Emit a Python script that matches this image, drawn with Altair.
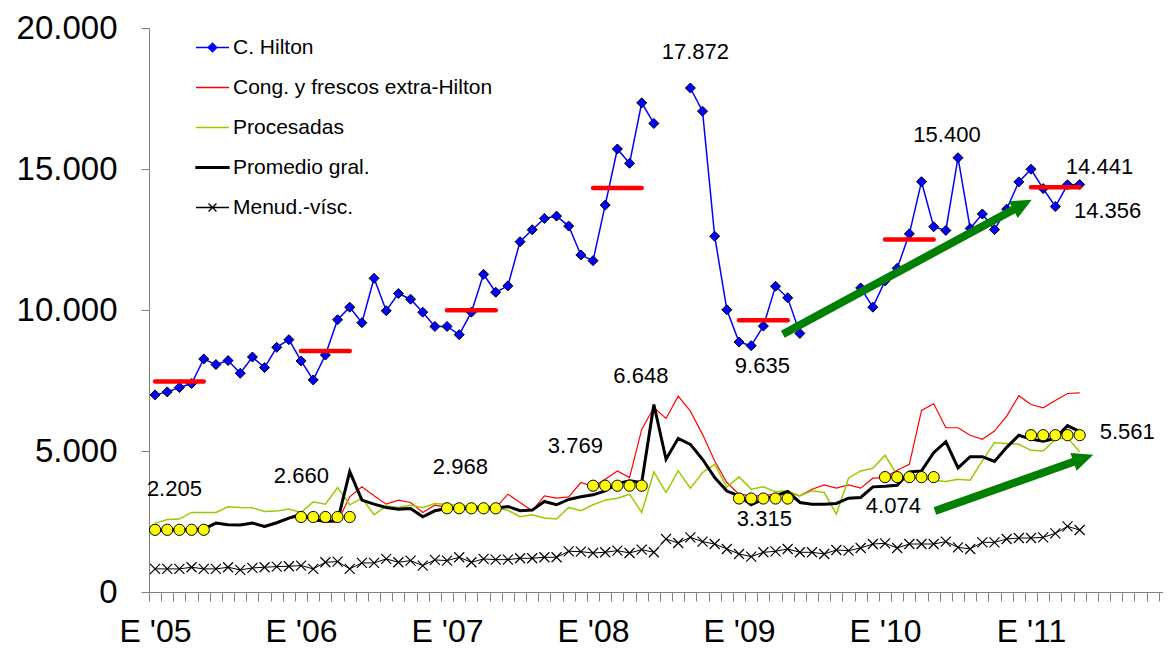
import math
import json
import altair as alt
import pandas as pd

# ---------------- data ----------------
months = list(range(77))  # 0 = Jan 2005 ... 76 = May 2011

hilton = [6990, 7096, 7252, 7393, 8263, 8065, 8206, 7757, 8333, 7958, 8676, 8948,
          8192, 7520, 8404, 9655, 10100, 9549, 11125, 9973, 10584, 10383, 9923, 9418,
          9418, 9125, 9924, 11266, 10630, 10856, 12422, 12846, 13246, 13329, 12976, 11951,
          11750, 13719, 15709, 15203, 17345, 16616, None, None, 17872, 17051, 12616, 10008,
          8863, 8736, 9429, 10842, 10432, 9171, None, None, None, None, 10784, 10100,
          11033, 11479, 12700, 14550, 12952, 12821, 15400, 12890, 13405, 12850, 13577, 14543,
          14991, 14306, 13670, 14441, 14447]

cong = [2190, 2200, 2210, 2220, 2240, 2420, 2370, 2360, 2430, 2291, 2430, 2600,
        2680, 2550, 2468, 2491, 3375, 3728, 3410, 3116, 3257, 3175, 2821, 3080,
        3010, 2990, 3000, 3030, 2980, 3469, 3175, 2880, 3410, 3328, 3375, 3882,
        3740, 3999, 4294, 4058, 5766, 6532, 6155, 6945, 6415, 5590, 4647, 3882,
        3469, 3410, 3420, 3469, 3528, 3410, 3646, 3799, 3681, 3799, 3681, 4035,
        4058, 4317, 4529, 6437, 6673, 5825, 5825, 5560, 5413, 5708, 6237, 6960,
        6650, 6532, 6791, 7039, 7062]

procesadas = [2433, 2574, 2586, 2821, 2821, 2821, 3022, 2998, 2986, 2857, 2868, 2939,
              2821, 3198, 3116, 3705, 3092, 3328, 2739, 3045, 2998, 3080, 2986, 3139,
              3100, 3080, 3060, 3050, 3000, 2900, 2668, 2739, 2621, 2586, 2998, 2880,
              3092, 3257, 3328, 3469, 2821, 4258, 3528, 4294, 3681, 4235, 4529, 3720,
              4082, 3646, 3728, 3552, 3587, 3410, 3587, 3528, 2762, 4035, 4294, 4388,
              4847, 4150, 4058, 4035, 3964, 3917, 3999, 3964, 4647, 5300, 5270, 5236,
              5024, 5000, 5413, 5472, 4977]

promedio = [2180, 2200, 2210, 2220, 2230, 2444, 2385, 2374, 2444, 2327, 2456, 2621,
            2762, 2550, 2515, 2515, 4270, 3257, 3116, 2998, 2939, 2963, 2668, 2880,
            2960, 2970, 2960, 2980, 2970, 3033, 2880, 2904, 3210, 3093, 3281, 3375,
            3446, 3587, 3846, 3940, 3881, 6648, 4706, 5448, 5236, 4706, 4058, 3580,
            3410, 3092, 3293, 3410, 3563, 3175, 3116, 3116, 3139, 3328, 3351, 3728,
            3752, 3787, 4258, 4294, 4940, 5330, 4400, 4800, 4800, 4630, 5130, 5560,
            5420, 5350, 5450, 5900, 5690]

menudencias = [819, 819, 819, 878, 819, 819, 878, 783, 854, 878, 901, 913,
               937, 819, 1054, 1078, 819, 1031, 1031, 1172, 1054, 1113, 937, 1137,
               1113, 1231, 1054, 1172, 1148, 1148, 1196, 1196, 1231, 1231, 1443, 1431,
               1384, 1408, 1467, 1384, 1502, 1408, 1879, 1738, 1938, 1785, 1702, 1526,
               1349, 1255, 1408, 1443, 1526, 1408, 1408, 1349, 1490, 1467, 1561, 1702,
               1726, 1561, 1702, 1702, 1702, 1785, 1584, 1526, 1761, 1761, 1879, 1914,
               1914, 1938, 2079, 2327, 2197]

series_names = ["C. Hilton", "Cong. y frescos extra-Hilton", "Procesadas",
                "Promedio gral.", "Menud.-vísc."]

year_labels = ["E '05", "E '06", "E '07", "E '08", "E '09", "E '10", "E '11"]
year_start = [0, 12, 24, 36, 48, 60, 72]
hilton_avg = [7464, 8545, 9994, 14330, 9635, 12503, 14356]     # red bars (Jan-May)
promedio_avg = [2205, 2660, 2968, 3769, 3315, 4074, 5561]      # yellow dots (Jan-May)

# annotation labels: anchor month and value (text = value)
ann_month = [2, 14, 26, 38, 50, 62, 76, 41, 44, 50, 66, 75, 76]
ann_value = [2205, 2660, 2968, 3769, 3315, 4074, 5561, 6648, 17872, 9635, 15400, 14441, 14356]

# trend arrows (month, value)
arrow_tail_m = [51.6, 64.1]
arrow_tail_v = [9142, 2873]
arrow_tip_m = [72.06, 77.12]
arrow_tip_v = [13912, 4866]

# ---------------- styling / layout ----------------
FONT = "Liberation Sans"
W, H = 1014, 564
X_MIN, X_MAX = -0.5, 82.85
Y_MIN, Y_MAX = 0, 20000
GRAY = "#808080"

ann_style = [  # dx, dy, align
    (-5, -41, "center"), (-24, -41, "center"), (-11, -41, "center"), (-42, -40, "center"),
    (1, 20, "center"), (-16, 29, "center"), (20, -3, "left"), (-13, -29, "center"),
    (5, -36, "center"), (-1, 46, "center"), (-11, -23, "center"), (32, -18, "center"),
    (28, 24, "center"),
]

xs = alt.Scale(domain=[X_MIN, X_MAX], nice=False, zero=False)
ys = alt.Scale(domain=[Y_MIN, Y_MAX], nice=False, zero=False)

tick_vals = [k - 0.5 for k in range(84)]
label_expr = ("(datum.value + 0.5) % 12 === 0 ? " + json.dumps(year_labels) +
              "[(datum.value + 0.5) / 12] : ''")

x_axis = alt.Axis(values=tick_vals, labelExpr=label_expr, labelOffset=W / (X_MAX - X_MIN) / 2,
                  tickSize=9, tickColor=GRAY, domainColor=GRAY, tickWidth=1, domainWidth=1,
                  labelFontSize=32, labelFont=FONT, labelColor="#000000", labelPadding=15,
                  labelOverlap=False, labelFlush=False, grid=False, title=None)
y_axis = alt.Axis(values=[0, 5000, 10000, 15000, 20000],
                  labelExpr="replace(format(datum.value, ','), ',', '.')",
                  tickSize=8, tickColor=GRAY, domainColor=GRAY, tickWidth=1, domainWidth=1,
                  labelFontSize=33, labelFont=FONT, labelColor="#000000", labelPadding=24,
                  grid=False, title=None)


def X(field="m"):
    return alt.X(f"{field}:Q", scale=xs, axis=x_axis, title=None)


def Y(field="v"):
    return alt.Y(f"{field}:Q", scale=ys, axis=y_axis, title=None)


# ---------------- tables ----------------
h_rows, seg = [], 0
for m, v in zip(months, hilton):
    if v is None:
        seg += 1
        continue
    h_rows.append({"m": m, "v": v, "seg": seg})
hdf = pd.DataFrame(h_rows)


def sdf(values):
    return pd.DataFrame({"m": months, "v": values})


bars_df = pd.DataFrame({"m": year_start, "m2": [s + 4 for s in year_start], "v": hilton_avg})
dots_df = pd.DataFrame([{"m": s + k, "v": a} for s, a in zip(year_start, promedio_avg) for k in range(5)])

# ---------------- layers ----------------
layers = []
layers.append(alt.Chart(hdf).mark_line(color="#0000FF", strokeWidth=1.5).encode(
    x=X(), y=Y(), detail="seg:N"))
layers.append(alt.Chart(sdf(cong)).mark_line(color="#FF0000", strokeWidth=1.2).encode(x=X(), y=Y()))
layers.append(alt.Chart(sdf(procesadas)).mark_line(color="#99CC00", strokeWidth=1.5).encode(x=X(), y=Y()))
layers.append(alt.Chart(sdf(promedio)).mark_line(color="#000000", strokeWidth=3).encode(x=X(), y=Y()))
layers.append(alt.Chart(sdf(menudencias)).mark_line(color="#000000", strokeWidth=1).encode(x=X(), y=Y()))
layers.append(alt.Chart(sdf(menudencias)).mark_point(
    shape="M-1,-1L1,1M-1,1L1,-1", filled=False, stroke="#000000", strokeWidth=1.2, size=100, opacity=1
).encode(x=X(), y=Y()))
layers.append(alt.Chart(hdf).mark_point(
    shape="diamond", filled=True, fill="#0000FF", stroke="#000000", strokeWidth=1, size=100, opacity=1
).encode(x=X(), y=Y()))

layers.append(alt.Chart(bars_df).mark_rule(color="#FF0000", strokeWidth=4.5, strokeCap="round").encode(
    x=X(), x2="m2:Q", y=Y()))
layers.append(alt.Chart(dots_df).mark_point(
    shape="circle", filled=True, fill="#FFFF00", stroke="#000000", strokeWidth=1, size=125, opacity=1
).encode(x=X(), y=Y()))

for m, v, (dx, dy, al) in zip(ann_month, ann_value, ann_style):
    t = f"{v:,}".replace(",", ".")
    layers.append(alt.Chart(pd.DataFrame({"m": [m], "v": [v], "t": [t]})).mark_text(
        dx=dx, dy=dy, align=al, baseline="middle", font=FONT, fontSize=22, color="#000000"
    ).encode(x=X(), y=Y(), text="t:N"))

# arrows
px_m = W / (X_MAX - X_MIN)
px_v = H / (Y_MAX - Y_MIN)
HEAD_LEN = 21
shaft_rows, head_rows = [], []
for tm, tv, pm, pv in zip(arrow_tail_m, arrow_tail_v, arrow_tip_m, arrow_tip_v):
    dx = (pm - tm) * px_m
    dy = (pv - tv) * px_v
    L = math.hypot(dx, dy)
    ux, uy = dx / L, dy / L
    end_m = pm - (HEAD_LEN - 4) * ux / px_m
    end_v = pv - (HEAD_LEN - 4) * uy / px_v
    mid_m = pm - HEAD_LEN / 2 * ux / px_m
    mid_v = pv - HEAD_LEN / 2 * uy / px_v
    ang = (-math.degrees(math.atan2(dy, dx))) % 360
    shaft_rows.append({"m": tm, "v": tv, "m2": end_m, "v2": end_v})
    head_rows.append({"m": mid_m, "v": mid_v, "ang": ang})

layers.append(alt.Chart(pd.DataFrame(shaft_rows)).mark_rule(color="#008000", strokeWidth=8, strokeCap="butt").encode(
    x=X(), y=Y(), x2="m2:Q", y2="v2:Q"))
layers.append(alt.Chart(pd.DataFrame(head_rows)).mark_point(
    shape="M1,0L-1,-0.9L-1,0.9Z", filled=True, fill="#008000", strokeWidth=0, size=HEAD_LEN ** 2, opacity=1
).encode(x=X(), y=Y(), angle=alt.Angle("ang:Q", scale=None)))

# legend (built from a clipped dummy layer so the legend merges colour, fill and shape)
legend_colors = ["#0000FF", "#FF0000", "#99CC00", "#000000", "#000000"]
legend_fills = ["#0000FF", "transparent", "transparent", "#000000", "transparent"]
legend_shapes = [
    "M-1,0L1,0M-0.27,0L0,-0.27L0.27,0L0,0.27Z",
    "M-1,0L1,0",
    "M-1,0L1,0",
    "M-1,-0.05L1,-0.05L1,0.05L-1,0.05Z",
    "M-1,0L1,0M-0.24,-0.24L0.24,0.24M-0.24,0.24L0.24,-0.24",
]
leg = alt.Legend(title=None, orient="none", legendX=46, legendY=2, labelFont=FONT,
                 labelFontSize=21, labelColor="#000000", labelOffset=3, rowPadding=12,
                 labelLimit=500, symbolSize=1089, symbolStrokeWidth=1.3, symbolOpacity=1, padding=0)
dom = series_names
layers.append(alt.Chart(pd.DataFrame({"series": series_names, "m": [-10] * 5, "v": [0] * 5})).mark_point(
    filled=False, clip=True, size=1089, strokeWidth=1.3, opacity=1
).encode(
    x=X(), y=Y(),
    color=alt.Color("series:N", scale=alt.Scale(domain=dom, range=legend_colors), legend=leg,
                    sort=series_names),
    fill=alt.Fill("series:N", scale=alt.Scale(domain=dom, range=legend_fills), legend=leg,
                  sort=series_names),
    shape=alt.Shape("series:N", scale=alt.Scale(domain=dom, range=legend_shapes), legend=leg,
                    sort=series_names),
))

chart = alt.layer(*layers).properties(
    width=W, height=H,
    padding={"left": 141, "top": 20, "right": 0, "bottom": 56},
    autosize=alt.AutoSizeParams(type="none"),
    background="white",
).configure_view(stroke=None)

chart.save("out.html", embed_options={"renderer": "svg", "actions": False})
